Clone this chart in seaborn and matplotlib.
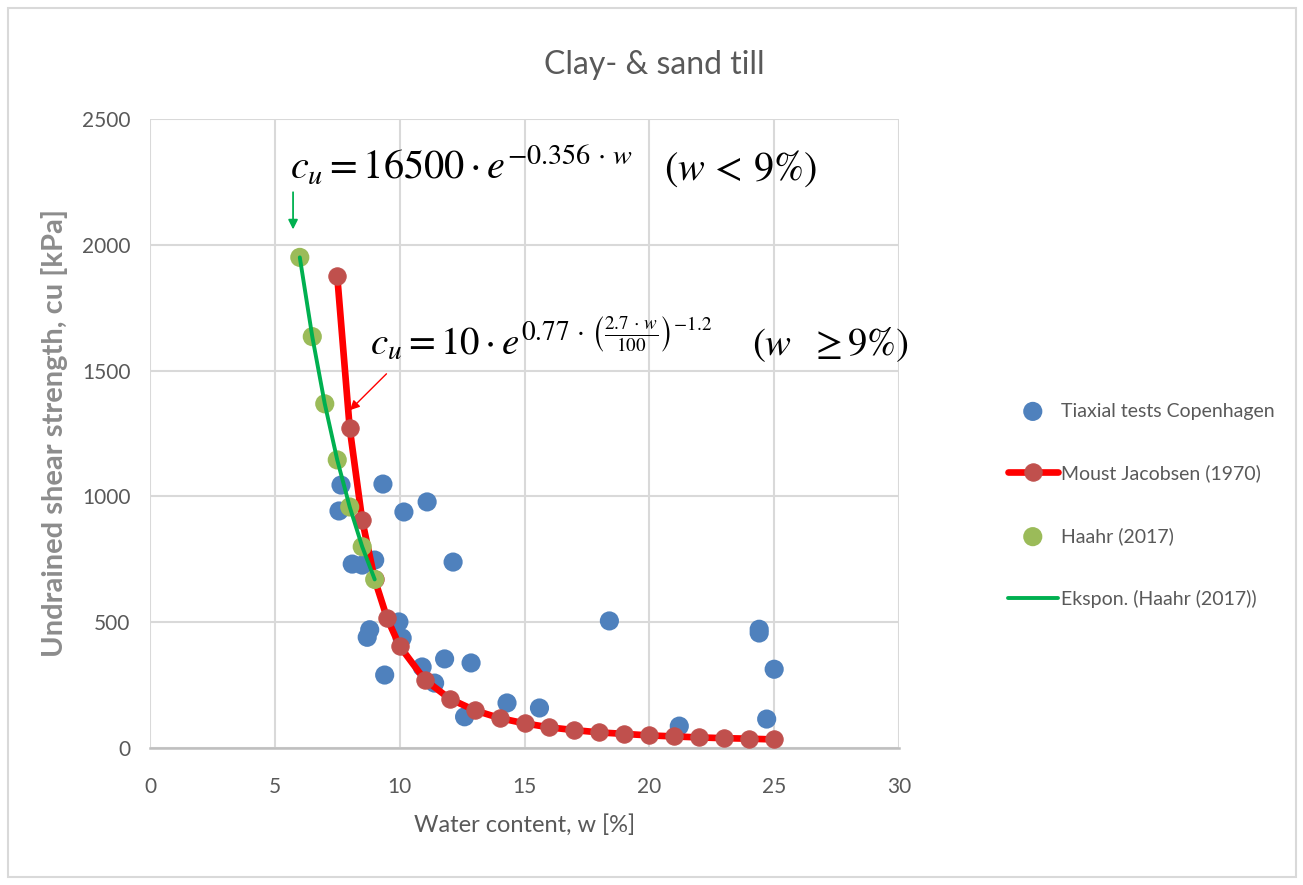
import matplotlib
matplotlib.use("Agg")
import matplotlib.pyplot as plt
import seaborn as sns
import pandas as pd
from matplotlib.patches import Rectangle

# ---------------- data ----------------
tri_w = [7.65, 7.57, 8.1, 8.5, 9.0, 9.33, 10.17, 11.1, 12.14, 8.7, 8.8, 9.4,
         9.97, 10.1, 10.9, 11.4, 11.8, 12.86, 12.6, 14.3, 15.6, 18.4, 21.2,
         24.4, 24.4, 24.7, 25.0]
tri_cu = [1045, 942, 731, 727, 747, 1049, 938, 978, 739, 440, 470, 290,
          501, 437, 322, 258, 354, 338, 124, 179, 159, 505, 87,
          472, 457, 115, 313]

mj_w = [7.5, 8, 8.5, 9, 9.5, 10, 11, 12, 13, 14, 15, 16, 17, 18, 19, 20,
        21, 22, 23, 24, 25]
mj_cu = [1875, 1270, 905, 670, 515, 405, 272, 196, 150, 119, 98, 82, 71,
         62, 56, 50, 46, 42, 39, 37, 34]

haahr_w = [6.0, 6.5, 7.0, 7.5, 8.0, 8.5, 9.0]
haahr_cu = [1950, 1635, 1368, 1145, 958, 800, 670]

x_ticks = [0, 5, 10, 15, 20, 25, 30]
y_ticks = [0, 500, 1000, 1500, 2000, 2500]

labels = ["Tiaxial tests Copenhagen", "Moust Jacobsen (1970)",
          "Haahr (2017)", "Ekspon. (Haahr (2017))"]

# ---------------- style ----------------
sns.set_theme(style="white")
plt.rcParams['font.family'] = ['Lato', 'DejaVu Sans']
plt.rcParams['mathtext.fontset'] = 'stix'

GRAY_TXT = '#595959'
GRID = '#D9D9D9'

fig = plt.figure(figsize=(13.03, 8.85), dpi=100)
ax = fig.add_axes([150/1303, 1-748/885, (899-150)/1303, (748-119)/885])

df_tri = pd.DataFrame({"w": tri_w, "cu": tri_cu})
df_mj = pd.DataFrame({"w": mj_w, "cu": mj_cu})
df_h = pd.DataFrame({"w": haahr_w, "cu": haahr_cu})

sns.scatterplot(data=df_tri, x="w", y="cu", s=190, color='#4F81BD',
                edgecolor='none', label=labels[0], ax=ax, zorder=3)
sns.lineplot(data=df_mj, x="w", y="cu", color='#FF0000', linewidth=4.8,
             marker='o', markersize=12.5, markerfacecolor='#C0504D',
             markeredgecolor='#C0504D', sort=False, label=labels[1],
             ax=ax, zorder=4)
sns.scatterplot(data=df_h, x="w", y="cu", s=190, color='#9BBB59',
                edgecolor='none', label=labels[2], ax=ax, zorder=5)
sns.lineplot(data=df_h, x="w", y="cu", color='#00B050', linewidth=2.8,
             sort=False, label=labels[3], ax=ax, zorder=6)

ax.set_xlim(0, 30)
ax.set_ylim(0, 2500)
ax.set_xticks(x_ticks)
ax.set_yticks(y_ticks)
ax.grid(True, color=GRID, linewidth=1.5)
ax.set_axisbelow(True)
for s in ['top', 'right', 'left']:
    ax.spines[s].set_visible(False)
ax.spines['bottom'].set_color('#BFBFBF')
ax.spines['bottom'].set_linewidth(1.8)
ax.tick_params(axis='both', length=0, labelsize=15, colors=GRAY_TXT)
ax.tick_params(axis='x', pad=21)
ax.tick_params(axis='y', pad=14)

ax.set_xlabel("Water content, w [%]", fontsize=17, color=GRAY_TXT, labelpad=12)
ax.set_ylabel("Undrained shear strength, cu [kPa]", fontsize=21,
              color='#8C8C8C', fontweight='bold', labelpad=10)
fig.text(654/1303, 1-65/885, "Clay- & sand till", fontsize=23,
         color=GRAY_TXT, ha='center', va='center')

# equations
ax.text(5.6, 2258, r'$c_u = 16500 \cdot e^{-0.356\,\cdot\,w}$', fontsize=29,
        color='black', va='baseline', ha='left', zorder=8)
ax.text(20.6, 2258, r'$(w\, <\, 9\%)$', fontsize=29, color='black',
        va='baseline', ha='left', zorder=8)
ax.text(8.8, 1562,
        r'$c_u = 10 \cdot e^{0.77\,\cdot\,\left(\frac{2.7\,\cdot\,w}{100}\right)^{-1.2}}$',
        fontsize=28, color='black', va='baseline', ha='left', zorder=8)
ax.text(24.1, 1562, r'$(w\ \ \geq 9\%)$', fontsize=28, color='black',
        va='baseline', ha='left', zorder=8, clip_on=False)

# arrows
ax.annotate('', xy=(5.73, 2050), xytext=(5.73, 2220),
            arrowprops=dict(arrowstyle='-|>', color='#00B050', lw=1.3,
                            mutation_scale=14), zorder=8)
ax.annotate('', xy=(7.93, 1335), xytext=(9.55, 1495),
            arrowprops=dict(arrowstyle='-|>', color='#FF0000', lw=1.0,
                            mutation_scale=14), zorder=8)

# legend
handles, labs = ax.get_legend_handles_labels()
leg = ax.legend(handles, labs, loc='upper left',
                bbox_to_anchor=(990/1303, 1-385/885),
                bbox_transform=fig.transFigure, frameon=False,
                labelspacing=2.3, handlelength=2.6, handletextpad=0.15,
                fontsize=14, labelcolor=GRAY_TXT, markerscale=1.0)

# chart border
fig.patches.append(Rectangle((8/1303, 8/885), (1296-8)/1303, (877-8)/885,
                             transform=fig.transFigure, fill=False,
                             edgecolor='#D9D9D9', linewidth=1.5))

fig.savefig("out.png", dpi=100)
